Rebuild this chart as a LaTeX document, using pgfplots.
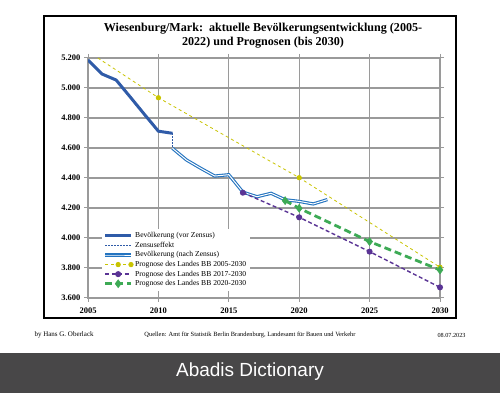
\documentclass[border=0pt]{standalone}
\usepackage{pgfplots}
\pgfplotsset{compat=1.18}
\usepackage{fontspec}
\setmainfont{Liberation Serif}
\setsansfont{Liberation Sans}
\definecolor{vorz}{HTML}{2F5BA8}
\definecolor{nachz}{HTML}{2474C0}
\definecolor{yel}{HTML}{C9C400}
\definecolor{purp}{HTML}{5A3495}
\definecolor{grn}{HTML}{3DAA55}
\definecolor{gridg}{HTML}{9A9A9A}
\definecolor{bar}{HTML}{484748}
\begin{document}
\begin{tikzpicture}
\fill[white] (0pt,0pt) rectangle (500pt,393pt);
\fill[bar] (0pt,0pt) rectangle (500pt,40pt);
\node[white,font=\sffamily\fontsize{19}{19}\selectfont] at (250pt,21pt) {Abadis Dictionary};
\draw[black,line width=1.2pt] (44pt,75pt) rectangle (456pt,377pt);
\node[font=\bfseries\fontsize{12.1}{13}\selectfont] at (263pt,364pt) {Wiesenburg/Mark:\ \ aktuelle Bevölkerungsentwicklung (2005-};
\node[font=\bfseries\fontsize{12.1}{13}\selectfont] at (263pt,350pt) {2022) und Prognosen (bis 2030)};
\node[font=\fontsize{7}{7}\selectfont,anchor=west] at (31pt,58pt) {by Hans G. Oberlack};
\node[font=\fontsize{6.4}{6.4}\selectfont] at (250pt,58pt) {Quellen: Amt für Statistik Berlin Brandenburg, Landesamt für Bauen und Verkehr};
\node[font=\fontsize{6.2}{6.2}\selectfont,anchor=east] at (469pt,58pt) {08.07.2023};
\begin{axis}[
  at={(88pt,95pt)}, anchor=south west,
  scale only axis, width=352pt, height=240pt,
  xmin=2005, xmax=2030, ymin=3600, ymax=5200,
  xtick={2005,2010,2015,2020,2025,2030},
  xticklabels={2005,2010,2015,2020,2025,2030},
  ytick={3600,3800,4000,4200,4400,4600,4800,5000,5200},
  yticklabels={3.600,3.800,4.000,4.200,4.400,4.600,4.800,5.000,5.200},
  ticklabel style={font=\bfseries\fontsize{8.5}{9}\selectfont},
  xticklabel style={yshift=-2pt},
  tick align=outside, major tick length=4pt,
  tick style={gridg,line width=1pt},
  grid=major, major grid style={gridg,line width=1.1pt},
  axis line style={gridg,line width=1.1pt},
  clip=true,
  legend cell align=left,
  legend style={at={(axis cs:2006.0,4062)},anchor=north west,draw=none,fill=white,
    font=\fontsize{7.6}{7.6}\selectfont,row sep=-1.2pt,inner sep=1.5pt},
  legend image code/.code={\draw[mark repeat=2,mark phase=2,#1] plot coordinates {(0cm,0cm) (0.45cm,0cm) (0.9cm,0cm)};},
]
\addplot[vorz,line width=3pt,no marks] coordinates {
(2005,5187) (2006,5093) (2007,5053) (2008,4940) (2009,4825) (2010,4712) (2011,4698)};
\addlegendentry{Bevölkerung (vor Zensus)}
\addplot[vorz,line width=1.6pt,dash pattern=on 1.6pt off 1.4pt,no marks] coordinates {(2011,4698) (2011,4600)};
\addlegendentry{Zensuseffekt}
\addplot[nachz,line width=1.1pt,double=white,double distance=1pt,no marks] coordinates {
(2011,4598) (2012,4520) (2013,4465) (2014,4413) (2015,4422) (2016,4306) (2017,4275)
(2018,4298) (2019,4255) (2020,4244) (2021,4227) (2022,4256)};
\addlegendentry{Bevölkerung (nach Zensus)}
\addplot[yel,line width=0.8pt,dashed,mark=*,mark size=2.2pt,mark options={solid,fill=yel},mark indices={2,3,4}] coordinates {
(2005.7,5200) (2010,4935) (2020,4402) (2030,3805)};
\addlegendentry{Prognose des Landes BB 2005-2030}
\addplot[purp,line width=1.4pt,dash pattern=on 4pt off 2.5pt,mark=*,mark size=2.3pt,mark options={solid,fill=purp}] coordinates {
(2016,4302) (2020,4138) (2025,3909) (2030,3671)};
\addlegendentry{Prognose des Landes BB 2017-2030}
\addplot[grn,line width=2.8pt,dash pattern=on 7pt off 4pt,mark=diamond*,mark size=4pt,mark options={solid,fill=grn,line width=0.5pt}] coordinates {
(2019,4249) (2020,4198) (2025,3976) (2030,3787)};
\addlegendentry{Prognose des Landes BB 2020-2030}
\end{axis}
\end{tikzpicture}
\end{document}
